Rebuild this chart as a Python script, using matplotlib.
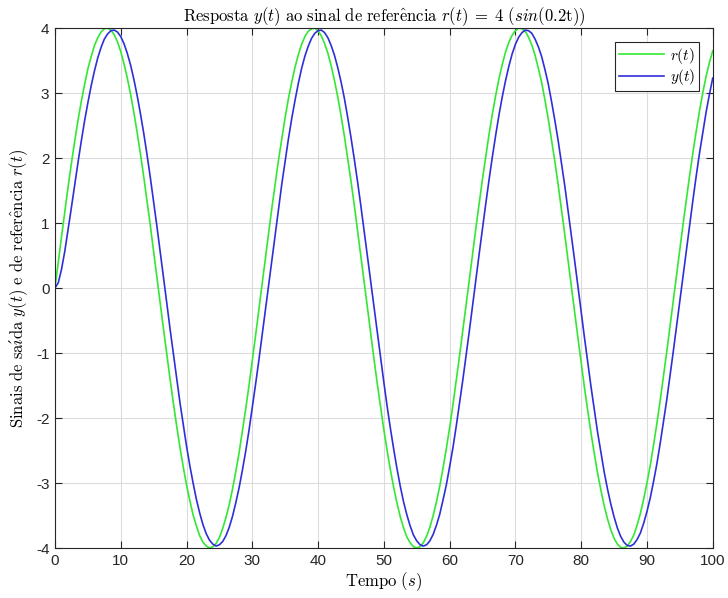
import matplotlib
matplotlib.use('Agg')
import matplotlib.pyplot as plt
import numpy as np

plt.rcParams['mathtext.fontset'] = 'cm'
plt.rcParams['axes.unicode_minus'] = False

# tempo (s), passo de 0.5 s
t = np.arange(0, 100.5, 0.5)

# referência r(t)
r = [0.00, 0.40, 0.79, 1.18, 1.56, 1.92, 2.26, 2.58, 2.87, 3.13,
     3.37, 3.56, 3.73, 3.85, 3.94, 3.99, 4.00, 3.97, 3.90, 3.79,
     3.64, 3.45, 3.23, 2.98, 2.70, 2.39, 2.06, 1.71, 1.34, 0.96,
     0.56, 0.17, -0.23, -0.63, -1.02, -1.40, -1.77, -2.12, -2.45, -2.75,
     -3.03, -3.27, -3.49, -3.66, -3.81, -3.91, -3.97, -4.00, -3.98, -3.93,
     -3.84, -3.70, -3.53, -3.33, -3.09, -2.82, -2.53, -2.20, -1.86, -1.50,
     -1.12, -0.73, -0.33, 0.07, 0.47, 0.86, 1.25, 1.62, 1.98, 2.31,
     2.63, 2.92, 3.17, 3.40, 3.59, 3.75, 3.87, 3.95, 3.99, 4.00,
     3.96, 3.88, 3.76, 3.61, 3.42, 3.19, 2.94, 2.65, 2.34, 2.00,
     1.65, 1.28, 0.89, 0.50, 0.10, -0.30, -0.70, -1.09, -1.47, -1.83,
     -2.18, -2.50, -2.80, -3.07, -3.31, -3.52, -3.69, -3.83, -3.92, -3.98,
     -4.00, -3.98, -3.92, -3.82, -3.68, -3.50, -3.29, -3.05, -2.77, -2.47,
     -2.15, -1.80, -1.43, -1.05, -0.66, -0.26, 0.13, 0.53, 0.93, 1.31,
     1.68, 2.03, 2.37, 2.68, 2.96, 3.22, 3.44, 3.63, 3.78, 3.89,
     3.96, 4.00, 3.99, 3.95, 3.86, 3.74, 3.58, 3.38, 3.16, 2.89,
     2.60, 2.28, 1.95, 1.59, 1.21, 0.83, 0.43, 0.03, -0.37, -0.76,
     -1.15, -1.53, -1.89, -2.23, -2.55, -2.85, -3.11, -3.35, -3.55, -3.72,
     -3.85, -3.94, -3.99, -4.00, -3.97, -3.90, -3.80, -3.65, -3.47, -3.25,
     -3.00, -2.73, -2.42, -2.09, -1.74, -1.37, -0.99, -0.60, -0.20, 0.20,
     0.60, 0.99, 1.37, 1.74, 2.09, 2.42, 2.73, 3.01, 3.26, 3.47,
     3.65]

# saída y(t)
y = [0.00, 0.08, 0.29, 0.57, 0.90, 1.24, 1.59, 1.93, 2.26, 2.57,
     2.85, 3.11, 3.34, 3.54, 3.70, 3.83, 3.91, 3.96, 3.97, 3.94,
     3.87, 3.76, 3.61, 3.43, 3.21, 2.96, 2.68, 2.38, 2.05, 1.70,
     1.33, 0.95, 0.56, 0.17, -0.23, -0.63, -1.01, -1.39, -1.76, -2.10,
     -2.43, -2.73, -3.00, -3.25, -3.46, -3.64, -3.78, -3.88, -3.94, -3.97,
     -3.95, -3.90, -3.81, -3.68, -3.51, -3.30, -3.07, -2.80, -2.51, -2.19,
     -1.84, -1.48, -1.11, -0.72, -0.33, 0.07, 0.46, 0.85, 1.24, 1.61,
     1.96, 2.30, 2.61, 2.89, 3.15, 3.38, 3.57, 3.72, 3.84, 3.92,
     3.96, 3.97, 3.93, 3.85, 3.73, 3.58, 3.39, 3.17, 2.92, 2.63,
     2.32, 1.99, 1.64, 1.27, 0.88, 0.49, 0.10, -0.30, -0.69, -1.08,
     -1.45, -1.82, -2.16, -2.48, -2.78, -3.05, -3.29, -3.49, -3.66, -3.80,
     -3.89, -3.95, -3.97, -3.95, -3.89, -3.79, -3.65, -3.48, -3.26, -3.03,
     -2.75, -2.46, -2.13, -1.78, -1.42, -1.04, -0.66, -0.26, 0.13, 0.53,
     0.92, 1.30, 1.67, 2.02, 2.35, 2.66, 2.94, 3.19, 3.41, 3.60,
     3.75, 3.86, 3.93, 3.97, 3.96, 3.92, 3.83, 3.71, 3.56, 3.36,
     3.14, 2.87, 2.58, 2.27, 1.93, 1.58, 1.20, 0.82, 0.43, 0.03,
     -0.37, -0.76, -1.14, -1.52, -1.87, -2.22, -2.53, -2.83, -3.09, -3.32,
     -3.52, -3.69, -3.82, -3.91, -3.96, -3.97, -3.94, -3.87, -3.77, -3.62,
     -3.44, -3.23, -2.98, -2.71, -2.40, -2.07, -1.73, -1.36, -0.98, -0.59,
     -0.20, 0.20, 0.59, 0.98, 1.36, 1.73, 2.08, 2.40, 2.71, 2.98,
     3.23]

sans = ['Liberation Sans', 'DejaVu Sans']

fig = plt.figure(figsize=(7.28, 5.98), dpi=100)
ax = fig.add_axes([0.0755, 0.0836, 0.9035, 0.8694])

ax.plot(t, r, color='#33e833', linewidth=1.2, label=r'$r(t)$')
ax.plot(t, y, color='#2f2fd8', linewidth=1.2, label=r'$y(t)$')

ax.set_xlim(0, 100)
ax.set_ylim(-4, 4)
ax.set_xticks(range(0, 101, 10))
ax.set_yticks(range(-4, 5))
ax.grid(True, color='#dcdcdc', linewidth=0.8)
ax.set_axisbelow(True)
ax.tick_params(direction='in', length=5, width=0.8, top=True, right=True,
               labelsize=11, colors='#262626', pad=4)
for lab in ax.get_xticklabels() + ax.get_yticklabels():
    lab.set_family(sans)
for sp in ax.spines.values():
    sp.set_color('#262626')
    sp.set_linewidth(0.8)

ax.set_title(r'$\mathrm{Resposta}\ y(t)\ \mathrm{ao\ sinal\ de\ refer\^encia}\ '
             r'r(t)\;=\;4\ (sin(0.2\mathrm{t}))$', fontsize=12, pad=5)
ax.set_xlabel(r'$\mathrm{Tempo}\ (s)$', fontsize=12, labelpad=2)
ax.set_ylabel(r'$\mathrm{Sinais\ de\ sa}\acute{\mathrm{\imath}}\mathrm{da}\ y(t)\ '
              r'\mathrm{e\ de\ refer\^encia}\ r(t)$', fontsize=12, labelpad=4)

leg = ax.legend(loc='upper right', fancybox=False, framealpha=1,
                edgecolor='#262626', fontsize=11, handlelength=2.9,
                borderaxespad=0.9, borderpad=0.25, labelspacing=0.1,
                handletextpad=0.4)
leg.get_frame().set_linewidth(0.8)

plt.savefig('out.png', dpi=100)
